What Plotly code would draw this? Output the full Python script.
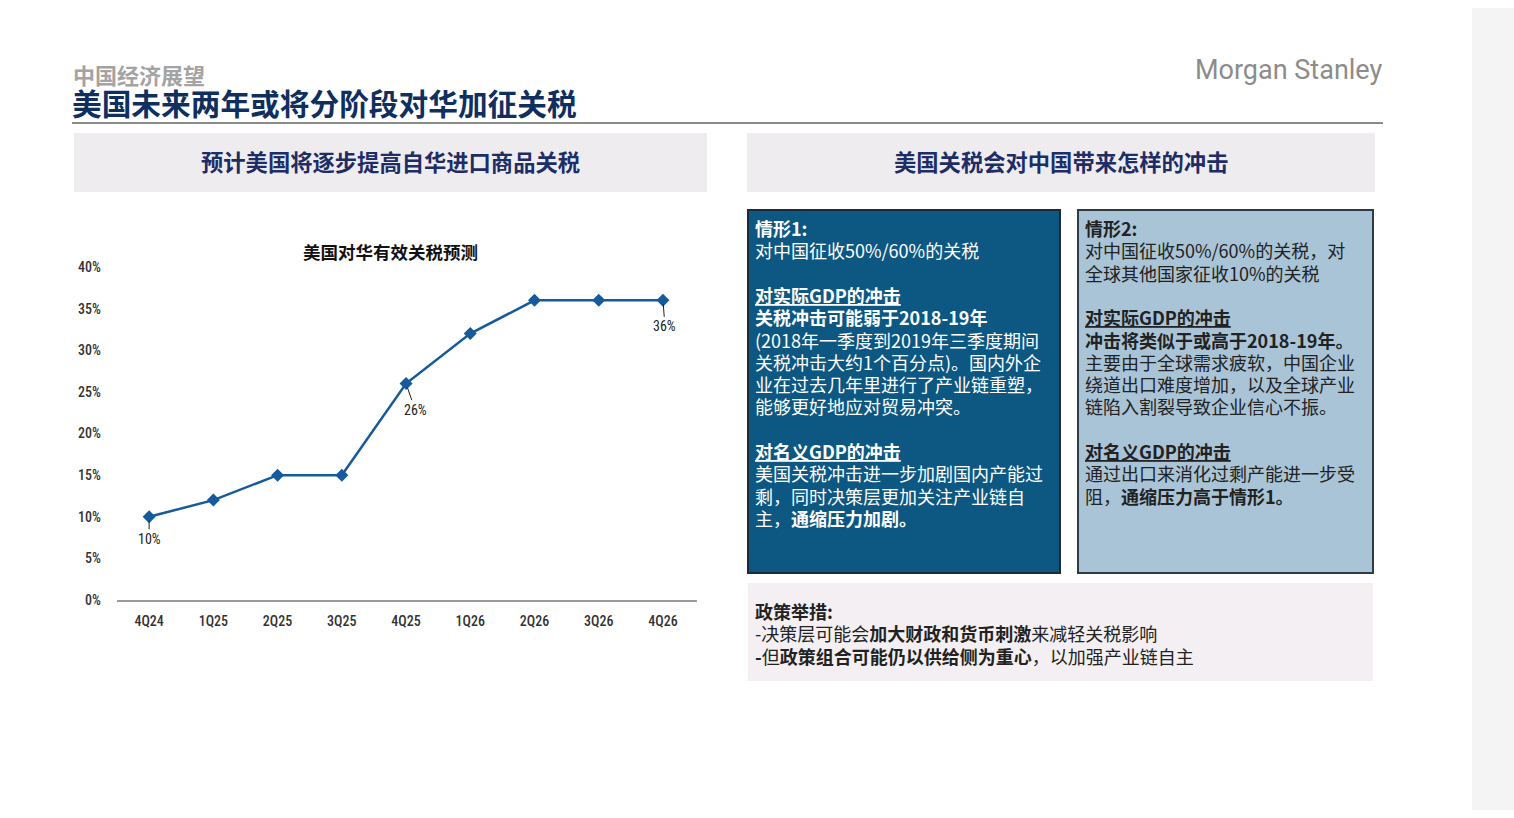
import plotly.graph_objects as go

W, H = 1514, 818

# ---------------- data ----------------
quarters = ["4Q24", "1Q25", "2Q25", "3Q25", "4Q25", "1Q26", "2Q26", "3Q26", "4Q26"]
tariff = [10, 12, 15, 15, 26, 32, 36, 36, 36]
labelled_idx = [0, 4, 8]
y_ticks = [0, 5, 10, 15, 20, 25, 30, 35, 40]

kicker = "中国经济展望"
title = "美国未来两年或将分阶段对华加征关税"
brand = "Morgan Stanley"
left_header = "预计美国将逐步提高自华进口商品关税"
right_header = "美国关税会对中国带来怎样的冲击"
chart_title = "美国对华有效关税预测"

box1_lines = [
    "<b>情形1:</b>",
    "对中国征收50%/60%的关税",
    "",
    "<b><u>对实际GDP的冲击</u></b>",
    "<b>关税冲击可能弱于2018-19年</b>",
    "(2018年一季度到2019年三季度期间",
    "关税冲击大约1个百分点)。国内外企",
    "业在过去几年里进行了产业链重塑，",
    "能够更好地应对贸易冲突。",
    "",
    "<b><u>对名义GDP的冲击</u></b>",
    "美国关税冲击进一步加剧国内产能过",
    "剩，同时决策层更加关注产业链自",
    "主，<b>通缩压力加剧。</b>",
]
box2_lines = [
    "<b>情形2:</b>",
    "对中国征收50%/60%的关税，对",
    "全球其他国家征收10%的关税",
    "",
    "<b><u>对实际GDP的冲击</u></b>",
    "<b>冲击将类似于或高于2018-19年。</b>",
    "主要由于全球需求疲软，中国企业",
    "绕道出口难度增加，以及全球产业",
    "链陷入割裂导致企业信心不振。",
    "",
    "<b><u>对名义GDP的冲击</u></b>",
    "通过出口来消化过剩产能进一步受",
    "阻，<b>通缩压力高于情形1。</b>",
]
policy_lines = [
    "<b>政策举措:</b>",
    "-决策层可能会<b>加大财政和货币刺激</b>来减轻关税影响",
    "<b>-</b>但<b>政策组合可能仍以供给侧为重心</b>，以加强产业链自主",
]

CJK = "Noto Sans CJK SC, Noto Sans, sans-serif"
NARROW = "Roboto Condensed, Liberation Sans Narrow, Roboto, sans-serif"
LINE_COLOR = "#155a9b"

# screen-y -> figure-y calibration (the photographed page shows the figure
# vertically offset by ~8px and scaled by ~0.98)
Y_OFF, Y_SCALE = 8.0, 0.9804


def px(x):
    return x / W


def py(y):
    return 1 - ((y - Y_OFF) / Y_SCALE) / H


def clamp(v):
    return min(1.0, max(0.0, v))


fig = go.Figure()

fig.add_trace(go.Scatter(
    x=list(range(len(quarters))), y=tariff, mode="lines+markers",
    line=dict(color=LINE_COLOR, width=2.5),
    marker=dict(symbol="diamond", size=10, color=LINE_COLOR),
    hoverinfo="skip", showlegend=False,
))

shapes = []


def rect(x0, y0, x1, y1, fill, line_color=None, lw=0):
    shapes.append(dict(type="rect", xref="paper", yref="paper",
                       x0=px(x0), x1=px(x1), y0=clamp(py(y1)), y1=clamp(py(y0)),
                       fillcolor=fill, layer="below",
                       line=dict(color=line_color or fill, width=lw)))


# right strip
rect(1472, 0, 1514, 818, "#f4f4f4")
# title rule
shapes.append(dict(type="line", xref="paper", yref="paper",
                   x0=px(72), x1=px(1383), y0=py(123), y1=py(123),
                   line=dict(color="#8a8a8a", width=2)))
# header panels
rect(74, 133, 707, 192, "#efecf0")
rect(747, 133, 1375, 192, "#efecf0")
# scenario boxes
rect(748, 210, 1060, 573, "#0d5883", "#1d2b38", 2)
rect(1078, 210, 1373, 573, "#a9c4d6", "#2e3a44", 2)
# policy box
rect(748, 583, 1373, 681, "#f3eff2")

ann = []


def text(x, y, s, size, color, family=CJK, xanchor="left"):
    ann.append(dict(xref="paper", yref="paper", x=px(x), y=py(y), text=s,
                    showarrow=False, xanchor=xanchor, yanchor="middle",
                    font=dict(family=family, size=size, color=color)))


text(71, 74, "<b>" + kicker + "</b>", 22, "#a3a3a3")
text(70, 102, "<b>" + title + "</b>", 29.7, "#0f2f5f")
text(1384, 70, brand, 27, "#8c8c8c", family="Roboto, sans-serif", xanchor="right")
text(390, 161, "<b>" + left_header + "</b>", 22.3, "#1d2d66", xanchor="center")
text(1061, 161, "<b>" + right_header + "</b>", 22.3, "#1d2d66", xanchor="center")
text(390, 251, "<b>" + chart_title + "</b>", 17.5, "#111111", xanchor="center")

LH = 22.3
for i, s in enumerate(box1_lines):
    if s:
        text(753, 228 + i * LH, s, 18, "#ffffff")
for i, s in enumerate(box2_lines):
    if s:
        text(1083, 228 + i * LH, s, 18, "#222222")
for i, s in enumerate(policy_lines):
    text(753, 611 + i * LH, s, 18, "#222222")

# data labels
offsets = {0: (0, 22), 4: (9, 26), 8: (2, 26)}
for i in labelled_idx:
    ax_, ay_ = offsets[i]
    ann.append(dict(xref="x", yref="y", x=i, y=tariff[i], text=f"{tariff[i]}%",
                    showarrow=True, arrowhead=0, arrowwidth=1, arrowcolor="#222",
                    ax=ax_, ay=ay_, standoff=4,
                    font=dict(family=NARROW, size=14, color="#222")))

fig.update_layout(
    width=W, height=H,
    margin=dict(l=0, r=0, t=0, b=0, pad=0),
    paper_bgcolor="#ffffff", plot_bgcolor="rgba(0,0,0,0)",
    shapes=shapes, annotations=ann,
    xaxis=dict(domain=[px(117), px(697)], range=[-0.5, 8.53],
               tickmode="array", tickvals=list(range(len(quarters))), ticktext=quarters,
               showgrid=False, zeroline=False, showline=True, linecolor="#9a9a9a",
               linewidth=2, ticks="", ticklabelstandoff=7,
               tickfont=dict(family=NARROW, size=14, color="#333", weight=500)),
    yaxis=dict(domain=[py(600), py(267)], range=[0, 40],
               tickmode="array", tickvals=y_ticks, ticktext=[f"{v}%" for v in y_ticks],
               showgrid=False, zeroline=False, showline=False, ticks="",
               ticklabelstandoff=15,
               tickfont=dict(family=NARROW, size=14, color="#333", weight=500)),
)

fig.write_html("out.html")
